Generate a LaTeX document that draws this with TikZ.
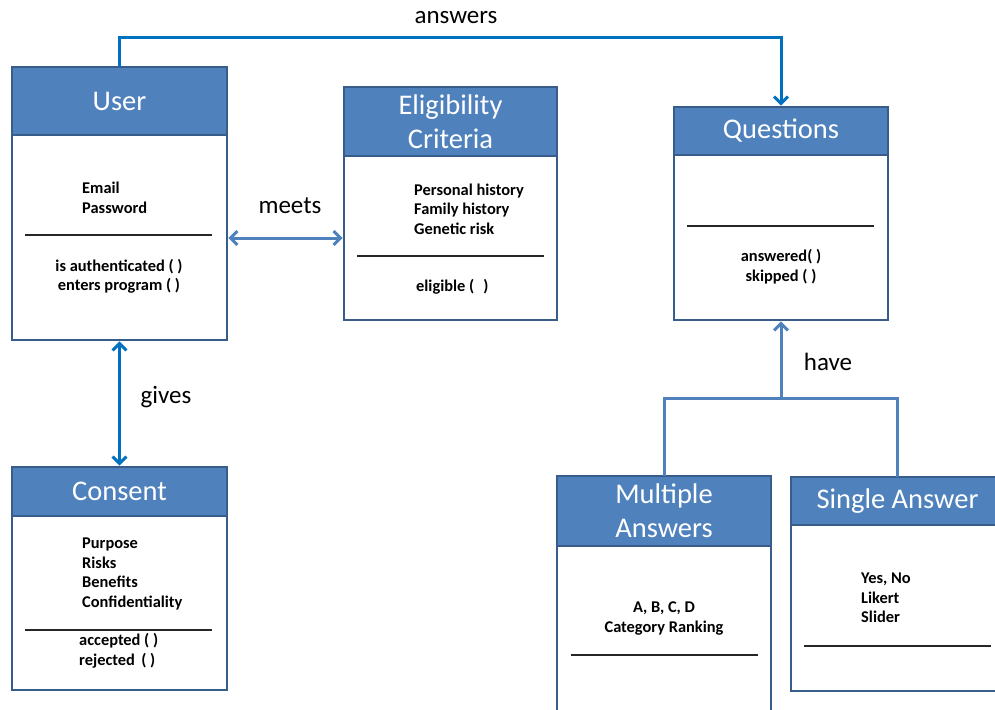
\documentclass[tikz,border=0pt]{standalone}
\usepackage{fontspec}
\setmainfont{Carlito}
\usetikzlibrary{arrows.meta}
\definecolor{hdrblue}{HTML}{4F81BD}
\definecolor{edgeblue}{HTML}{385D8A}
\definecolor{linkblue}{HTML}{0070C0}
\definecolor{softlink}{HTML}{4F81BD}

\begin{document}
\begin{tikzpicture}[x=1pt,y=-1pt,
  box/.style={draw=edgeblue, line width=2.6pt, fill=white, inner sep=0, outer sep=0, anchor=north west},
  hdr/.style={draw=edgeblue, line width=2.6pt, fill=hdrblue, inner sep=0, outer sep=0, anchor=north west,
              text=white, font=\fontsize{28.5}{34}\selectfont, align=center},
  attrl/.style={font=\bfseries\fontsize{16.4}{19.5}\selectfont, align=left, inner sep=0, anchor=west},
  attrc/.style={font=\bfseries\fontsize{16.4}{19.5}\selectfont, align=center, inner sep=0},
  divider/.style={draw=black!85, line width=1.1pt},
  lbl/.style={font=\fontsize{25}{30}\selectfont, inner sep=0},
  barb/.tip={Straight Barb[length=7pt, width=14pt]},
  strong/.style={draw=linkblue, line width=3pt},
  soft/.style={draw=softlink, line width=3pt}
]
\useasboundingbox (0,0) rectangle (995,709);

% ---- User
\node[box, minimum width=215pt, minimum height=273pt] (userB) at (12,67) {};
\node[hdr, minimum width=215pt, minimum height=68pt] (userH) at (12,67) {User};
\node[attrl] (userA) at (82,198) {Email\\Password};
\draw[divider] (25,235) -- (212,235);
\node[attrc] (userM) at (119,276.5) {is authenticated ( )\\enters program ( )};

% ---- Eligibility Criteria
\node[box, minimum width=213pt, minimum height=233pt] (eligB) at (344,87) {};
\node[hdr, minimum width=213pt, minimum height=69pt] (eligH) at (344,87) {Eligibility\\Criteria};
\node[attrl] (eligA) at (414,209) {Personal history\\Family history\\Genetic risk};
\draw[divider] (357,256) -- (544,256);
\node[attrl] (eligM) at (416,287) {eligible (\,\, )};

% ---- Questions
\node[box, minimum width=214pt, minimum height=213pt] (quesB) at (674,107) {};
\node[hdr, minimum width=214pt, minimum height=48pt] (quesH) at (674,107) {Questions};
\draw[divider] (687,226) -- (874,226);
\node[attrc] (quesM) at (781,266.5) {answered( )\\skipped ( )};

% ---- Consent
\node[box, minimum width=215pt, minimum height=223pt] (consB) at (12,467) {};
\node[hdr, minimum width=215pt, minimum height=49pt] (consH) at (12,467) {Consent};
\node[attrl] (consA) at (82,574) {Purpose\\Risks\\Benefits\\Confidentiality};
\draw[divider] (25,630) -- (212,630);
\node[attrl] (consM) at (79,651) {accepted ( )\\rejected \,( )};

% ---- Multiple Answers
\node[box, minimum width=214pt, minimum height=240pt] (multB) at (557,476) {};
\node[hdr, minimum width=214pt, minimum height=70pt] (multH) at (557,476) {Multiple\\Answers};
\node[attrc] (multA) at (664,618.5) {A, B, C, D\\Category Ranking};
\draw[divider] (571,655) -- (758,655);

% ---- Single Answer
\node[box, minimum width=213pt, minimum height=214pt] (singB) at (791,477) {};
\node[hdr, minimum width=213pt, minimum height=48pt] (singH) at (791,477) {Single Answer};
\node[attrl] (singA) at (861,598) {Yes, No\\Likert\\Slider};
\draw[divider] (804,646) -- (991,646);

% ---- Connectors
\coordinate (ansL) at (userH.north |- 0,38);
\draw[strong, -barb, shorten >=1.3pt] (userH.north) -- (ansL) -| (quesH.north);
\node[lbl] (ansT) at (456,18) {answers};

\draw[soft, barb-barb, shorten <=1.3pt, shorten >=1.3pt] (userB.east |- 0,238) -- (eligB.west |- 0,238);
\node[lbl] (meetsT) at (290,206) {meets};

\draw[strong, barb-barb, shorten <=1.3pt, shorten >=1.3pt] (userB.south) -- (consH.north);
\node[lbl] (givesT) at (166,397) {gives};

\coordinate (haveJ) at (quesB.south |- 0,398);
\draw[soft] (multH.north) |- (haveJ) -| (singH.north);
\draw[soft, -barb, shorten >=1.3pt] (haveJ) -- (quesB.south);
\node[lbl] (haveT) at (828,362) {have};
\end{tikzpicture}
\end{document}
